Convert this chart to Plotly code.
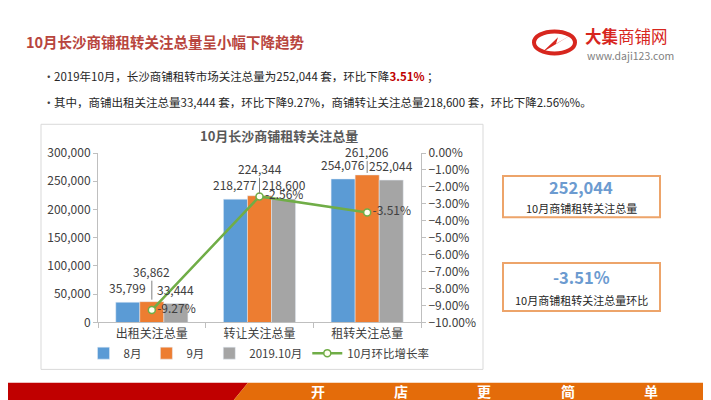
import plotly.graph_objects as go
from plotly.subplots import make_subplots

# data
categories = ["出租关注总量", "转让关注总量", "租转关注总量"]
aug = [35799, 218277, 254076]
sep = [36862, 224344, 261206]
oct_ = [33444, 218600, 252044]
mom_rate = [-0.0927, -0.0256, -0.0351]
series_names = ["8月", "9月", "2019.10月", "10月环比增长率"]

W, H = 711, 400
FONT = "Noto Sans CJK SC"
BARGAP = 0.33
X0, X1 = 90, 413  # plot area, px


def px(x):
    return x / W


def py(y):
    return 1 - y / H


fig = make_subplots(specs=[[{"secondary_y": True}]])

bar_colors = ["#5B9BD5", "#ED7D31", "#A5A5A5"]
for name, vals, col in zip(series_names[:3], [aug, sep, oct_], bar_colors):
    fig.add_trace(go.Bar(x=categories, y=vals, name=name, marker_color=col), secondary_y=False)

fig.add_trace(go.Scatter(
    x=categories, y=mom_rate, name=series_names[3],
    mode="lines+markers+text",
    line=dict(color="#70AD47", width=2.5),
    marker=dict(size=7, color="#FFFFF0", line=dict(color="#70AD47", width=1.5)),
    texttemplate="%{y:.2%}", textposition="middle right",
    textfont=dict(size=12, color="#404040"), cliponaxis=False,
), secondary_y=True)

# bar value labels: Aug left, Oct right, Sep lifted with a leader line
bar_shift = (1 - BARGAP) / 3 * (X1 - X0) / len(categories)
for vals, shift in [(aug, -bar_shift), (oct_, bar_shift)]:
    for c, v in zip(categories, vals):
        fig.add_annotation(x=c, y=v, xref="x", yref="y", text=f"{v:,}", showarrow=False,
                           xshift=shift, yshift=5, yanchor="bottom", borderpad=0,
                           font=dict(size=12, color="#404040"))
for c, v, lift in zip(categories, sep, [-30, -27, -23]):
    fig.add_annotation(x=c, y=v, xref="x", yref="y", text=f"{v:,}",
                       showarrow=True, arrowhead=0, arrowwidth=1, arrowcolor="#7F7F7F",
                       ax=0, ay=lift, standoff=2, borderpad=0,
                       font=dict(size=12, color="#404040"))

fig.update_layout(
    width=W, height=H,
    margin=dict(l=0, r=0, t=0, b=0),
    paper_bgcolor="white", plot_bgcolor="white",
    font=dict(family=FONT, color="#595959"),
    barmode="group", bargap=BARGAP, bargroupgap=0,
    showlegend=True,
    legend=dict(orientation="h", x=px(251), xanchor="center", y=py(350), yanchor="middle",
                font=dict(size=11.5, color="#404040"), itemwidth=30,
                bgcolor="rgba(0,0,0,0)", traceorder="normal"),
)

fig.update_xaxes(domain=[px(X0), px(X1)], showline=True, linecolor="#BFBFBF",
                 ticks="outside", tickson="boundaries", ticklen=5, tickcolor="#BFBFBF",
                 tickfont=dict(size=12, color="#404040"), showgrid=False)
fig.update_yaxes(domain=[py(318), py(141)], secondary_y=False,
                 range=[0, 300000], dtick=50000, tickformat=",",
                 showline=True, linecolor="#BFBFBF", ticks="outside", ticklen=4,
                 tickcolor="#BFBFBF", showgrid=False, zeroline=False,
                 tickfont=dict(size=12, color="#404040"))
fig.update_yaxes(secondary_y=True, range=[-0.10, 0], dtick=0.01, tickformat=".2%",
                 showline=True, linecolor="#BFBFBF", ticks="outside", ticklen=4,
                 tickcolor="#BFBFBF", showgrid=False, zeroline=False,
                 tickfont=dict(size=12, color="#404040"))

shapes = []
# chart frame
shapes.append(dict(type="rect", xref="paper", yref="paper", x0=px(33), x1=px(475),
                   y0=py(367), y1=py(111), line=dict(color="#D9D9D9", width=1), layer="below"))
# KPI boxes
shapes.append(dict(type="rect", xref="paper", yref="paper", x0=px(495), x1=px(652),
                   y0=py(208), y1=py(165), line=dict(color="#EDA46A", width=2)))
shapes.append(dict(type="rect", xref="paper", yref="paper", x0=px(495), x1=px(652),
                   y0=py(306), y1=py(256), line=dict(color="#EDA46A", width=2)))
# bottom banner
shapes.append(dict(type="path", xref="paper", yref="paper", fillcolor="#C00000", line_width=0,
                   path=f"M 0 {py(381)} L {px(240)} {py(381)} L {px(225)} {py(400)} L 0 {py(400)} Z"))
shapes.append(dict(type="path", xref="paper", yref="paper", fillcolor="#E46C0A", line_width=0,
                   path=f"M {px(240)} {py(381)} L 1 {py(381)} L 1 {py(400)} L {px(225)} {py(400)} Z"))
# logo mark
shapes.append(dict(type="circle", xref="paper", yref="paper", x0=px(526), x1=px(567),
                   y0=py(37), y1=py(14), line=dict(color="#D7261E", width=4)))
shapes.append(dict(type="path", xref="paper", yref="paper", fillcolor="#D7261E", line_width=0,
                   path=f"M {px(534)} {py(36)} L {px(566)} {py(16)} L {px(548)} {py(27)} L {px(550)} {py(20)} Z"))
fig.update_layout(shapes=shapes)


def text(x, y, s, size, color="#262626", anchor="left", bold=False):
    fig.add_annotation(xref="paper", yref="paper", x=px(x), y=py(y), text=f"<b>{s}</b>" if bold else s,
                       showarrow=False, xanchor=anchor, yanchor="middle",
                       font=dict(size=size, color=color, family=FONT))


text(16, 25, "10月长沙商铺租转关注总量呈小幅下降趋势", 14.5, "#B8453D", bold=True)
text(575, 19, "<b>大集</b>商铺网", 16.5, "#D7261E")
text(577, 39, "www.daji123.com", 10.5, "#7F7F7F")

text(33, 61, "•", 11.5, "#404040")
text(44, 61, "2019年10月，长沙商铺租转市场关注总量为252,044 套，环比下降"
     "<span style='color:#C00000'><b>3.51%</b></span> ；", 11.5, "#262626")
text(33, 88, "•", 11.5, "#404040")
text(44, 88, "其中，商铺出租关注总量33,444 套，环比下降9.27%，商铺转让关注总量218,600 套，环比下降2.56%%。",
     11.5, "#262626")

text(271, 123, "10月长沙商铺租转关注总量", 13, "#595959", anchor="center", bold=True)

text(573, 177, f"{oct_[2]:,}", 16.5, "#6C9BD0", anchor="center", bold=True)
text(573, 198, "10月商铺租转关注总量", 11, "#262626", anchor="center")
text(573, 270, f"{mom_rate[2] * 100:.2f}%", 16.5, "#6C9BD0", anchor="center", bold=True)
text(573, 294, "10月商铺租转关注总量环比", 11, "#262626", anchor="center")

for ch, x in zip("开店更简单", [310, 393, 476, 560, 643]):
    text(x, 390, ch, 14, "#FFFFFF", anchor="center", bold=True)

fig.write_html("out.html")
